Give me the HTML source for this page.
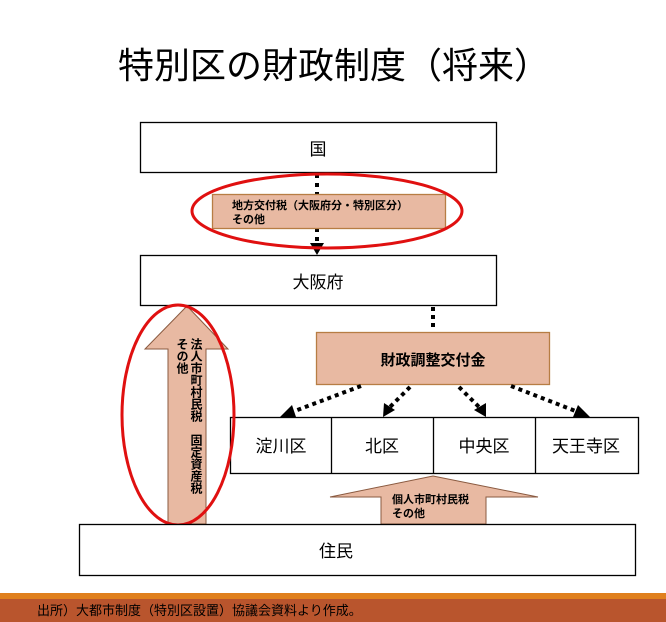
<!DOCTYPE html>
<html><head><meta charset="utf-8">
<style>
html,body{margin:0;padding:0;width:666px;height:622px;background:#fff;overflow:hidden;position:relative;font-family:"Liberation Sans","Noto Sans CJK JP",sans-serif;}
.abs{position:absolute;}
.vt{position:absolute;writing-mode:vertical-rl;font-weight:bold;font-size:12px;line-height:14px;color:#000;}
</style></head><body>
<svg class="abs" style="left:0;top:0" width="666" height="622" viewBox="0 0 666 622">
<defs>
<marker id="ah" markerWidth="8" markerHeight="8" refX="6" refY="4" orient="auto" markerUnits="userSpaceOnUse" viewBox="0 0 8 8"><path d="M0,0 L8,4 L0,8 z" fill="#000"/></marker>
<marker id="ah2" markerWidth="16" markerHeight="14" refX="14" refY="7" orient="auto" markerUnits="userSpaceOnUse"><path d="M0,0 L16,7 L0,14 z" fill="#000"/></marker>
</defs>
<text x="118" y="78" font-size="36" font-family="Liberation Sans, Noto Sans CJK JP, sans-serif">特別区の財政制度（将来）</text>
<rect x="140.5" y="122.5" width="356" height="50" fill="#fff" stroke="#000" stroke-width="1.3"/>
<text x="318" y="155" font-size="17" text-anchor="middle">国</text>
<line x1="317" y1="174" x2="317" y2="242" stroke="#000" stroke-width="4" stroke-dasharray="4,5"/>
<path d="M310,243 L324,243 L317,255 z" fill="#000"/>
<rect x="212.5" y="194.5" width="233" height="34" fill="#e8b9a2" stroke="#b77d44" stroke-width="1.3"/>
<text x="232" y="209" font-size="11" font-weight="bold">地方交付税（大阪府分・特別区分）</text>
<text x="232" y="223" font-size="11" font-weight="bold">その他</text>
<ellipse cx="327" cy="211" rx="135" ry="37" fill="none" stroke="#e01010" stroke-width="3"/>
<rect x="140.5" y="255.5" width="356" height="50" fill="#fff" stroke="#000" stroke-width="1.3"/>
<text x="318" y="288" font-size="17" text-anchor="middle">大阪府</text>
<line x1="433" y1="307" x2="433" y2="331" stroke="#000" stroke-width="4" stroke-dasharray="4,4"/>
<rect x="316.5" y="332.5" width="233" height="52" fill="#e8b9a2" stroke="#b77d44" stroke-width="1.3"/>
<text x="433" y="365" font-size="15" font-weight="bold" text-anchor="middle">財政調整交付金</text>
<g stroke="#000" stroke-width="4" stroke-dasharray="4,4" fill="none">
<line x1="361" y1="386" x2="292" y2="412"/>
<line x1="410" y1="387" x2="389" y2="408"/>
<line x1="459" y1="387" x2="480" y2="408"/>
<line x1="511" y1="386" x2="578" y2="412"/>
</g>
<path d="M280,417 L292,405 L296,417 z" fill="#000"/>
<path d="M383,417 L384,403 L395,410 z" fill="#000"/>
<path d="M486,417 L474,410 L486,403 z" fill="#000"/>
<path d="M590,417 L573,417 L578,405 z" fill="#000"/>
<rect x="230.5" y="417.5" width="408" height="56" fill="#fff" stroke="#000" stroke-width="1.3"/>
<line x1="331.5" y1="417" x2="331.5" y2="474" stroke="#000" stroke-width="1.3"/>
<line x1="433.5" y1="417" x2="433.5" y2="474" stroke="#000" stroke-width="1.3"/>
<line x1="535.5" y1="417" x2="535.5" y2="474" stroke="#000" stroke-width="1.3"/>
<text x="281" y="452" font-size="17" text-anchor="middle">淀川区</text>
<text x="382" y="452" font-size="17" text-anchor="middle">北区</text>
<text x="484" y="452" font-size="17" text-anchor="middle">中央区</text>
<text x="586" y="452" font-size="17" text-anchor="middle">天王寺区</text>
<path d="M433,476 L538,497 L486,497 L486,524 L381,524 L381,497 L330,497 z" fill="#e8b9a2" stroke="#8a5a40" stroke-width="1"/>
<text x="392" y="503" font-size="11" font-weight="bold">個人市町村民税</text>
<text x="392" y="517" font-size="11" font-weight="bold">その他</text>
<path d="M187,306 L228,349 L206,349 L206,524 L168,524 L168,349 L145,349 z" fill="#e8b9a2" stroke="#8a5a40" stroke-width="1"/>
<ellipse cx="178" cy="415" rx="56" ry="110" fill="none" stroke="#e01010" stroke-width="3"/>
<rect x="79.5" y="524.5" width="556" height="51" fill="#fff" stroke="#000" stroke-width="1.3"/>
<text x="336" y="557" font-size="17" text-anchor="middle">住民</text>
<rect x="0" y="593" width="666" height="6" fill="#e0801e"/>
<rect x="0" y="599" width="666" height="23" fill="#b9552d"/>
<text x="37" y="615" font-size="13" fill="#000">出所）大都市制度（特別区設置）協議会資料より作成。</text>
</svg>
<div class="vt" style="left:171px;top:338px;height:180px;width:32px;">法人市町村民税　固定資産税<br>その他</div>
</body></html>
